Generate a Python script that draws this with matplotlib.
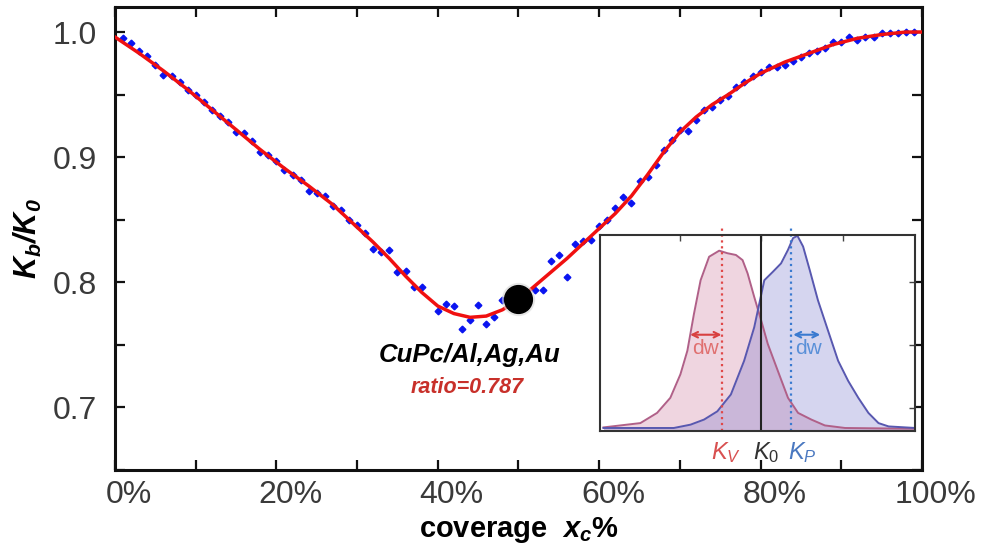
import numpy as np
import matplotlib
matplotlib.use("Agg")
import matplotlib.pyplot as plt
from matplotlib.ticker import MultipleLocator, FuncFormatter
from matplotlib.transforms import ScaledTranslation

plt.rcParams['font.family'] = ['Liberation Sans', 'DejaVu Sans']
plt.rcParams['mathtext.fontset'] = 'custom'
plt.rcParams['mathtext.rm'] = 'Liberation Sans'
plt.rcParams['mathtext.it'] = 'Liberation Sans:italic'
plt.rcParams['mathtext.bf'] = 'Liberation Sans:bold'
plt.rcParams['mathtext.bfit'] = 'Liberation Sans:bold:italic'

# measured points (coverage %, Kb/K0)
cov_pts = [1, 2, 3, 4, 5, 6, 7, 8, 9, 10, 11, 12, 13, 14, 15, 16, 17, 18, 19, 20,
           21, 22, 23, 24, 25, 26, 27, 28, 29, 30, 31, 32, 33, 34, 35, 36, 37, 38,
           40, 41, 42, 43, 44, 45, 46, 47, 48, 52, 53, 54, 55, 56, 57, 58, 59, 60,
           61, 62, 63, 64, 65, 66, 67, 68, 69, 70, 71, 72, 73, 74, 75, 76, 77, 78,
           79, 80, 81, 82, 83, 84, 85, 86, 87, 88, 89, 90, 91, 92, 93, 94, 95, 96,
           97, 98, 99]
kb_pts = [0.995, 0.991, 0.985, 0.981, 0.974, 0.966, 0.965, 0.960, 0.954, 0.950,
          0.944, 0.938, 0.933, 0.928, 0.920, 0.919, 0.913, 0.904, 0.902, 0.897,
          0.890, 0.886, 0.882, 0.873, 0.871, 0.869, 0.861, 0.858, 0.850, 0.846,
          0.839, 0.827, 0.8245, 0.826, 0.808, 0.809, 0.796, 0.796,
          0.777, 0.783, 0.781, 0.763, 0.770, 0.782, 0.767, 0.772, 0.786,
          0.794, 0.794, 0.817, 0.822, 0.804, 0.831, 0.833, 0.834, 0.845,
          0.850, 0.859, 0.868, 0.863, 0.881, 0.884, 0.894, 0.906, 0.914, 0.922,
          0.921, 0.930, 0.938, 0.940, 0.946, 0.949, 0.956, 0.960, 0.965, 0.968,
          0.972, 0.972, 0.974, 0.977, 0.980, 0.983, 0.985, 0.987, 0.992, 0.992,
          0.996, 0.994, 0.996, 0.996, 0.999, 0.999, 0.999, 1.000, 1.000]

# fitted curve
cov_fit = [0, 3, 6, 9, 12, 15, 18, 21, 24, 27, 30, 32, 34, 36, 38, 40, 42, 44, 46,
           48, 50, 52, 54, 56, 58, 60, 62, 64, 66, 68, 70, 72, 74, 76, 78, 80, 83,
           86, 89, 92, 95, 98, 100]
kb_fit = [0.996, 0.983, 0.969, 0.954, 0.938, 0.922, 0.906, 0.891, 0.877, 0.862,
          0.844, 0.832, 0.819, 0.805, 0.792, 0.781, 0.775, 0.772, 0.773, 0.778,
          0.786, 0.797, 0.808, 0.819, 0.831, 0.843, 0.855, 0.869, 0.886, 0.904,
          0.920, 0.932, 0.942, 0.950, 0.959, 0.967, 0.976, 0.983, 0.990, 0.995,
          0.998, 1.000, 1.000]

ratio_x = 50
ratio_y = 0.787

# inset distributions
kv_x = [1.1, 12.8, 18.1, 22.3, 25.5, 27.7, 29.8, 31.9, 34.6, 37.8, 40.4, 43.1, 45.2,
        46.8, 48.9, 51.1, 53.2, 56.4, 59.6, 62.8, 67.0, 71.3, 77.7, 100]
kv_y = [0.017, 0.039, 0.091, 0.168, 0.288, 0.408, 0.597, 0.768, 0.888, 0.919, 0.906,
        0.897, 0.871, 0.803, 0.683, 0.563, 0.443, 0.305, 0.168, 0.091, 0.057, 0.027,
        0.014, 0.010]
kp_x = [1.1, 23.4, 28.7, 33.0, 37.2, 41.5, 45.7, 48.9, 50.5, 52.1, 54.8, 57.4, 59.6,
        61.2, 62.6, 64.4, 66.5, 69.1, 72.3, 75.5, 78.7, 81.9, 85.1, 88.3, 91.5, 100]
kp_y = [0.014, 0.014, 0.031, 0.057, 0.099, 0.185, 0.357, 0.528, 0.648, 0.768, 0.811,
        0.854, 0.923, 0.983, 0.995, 0.940, 0.820, 0.666, 0.511, 0.357, 0.254, 0.168,
        0.091, 0.039, 0.022, 0.014]
kv_pos, k0_pos, kp_pos = 38.8, 51.1, 60.6

fig = plt.figure(figsize=(9.95, 5.56), dpi=100)
ax = fig.add_axes([0.1156, 0.1547, 0.811, 0.8327])

ax.plot(cov_pts, kb_pts, 'D', color='#0a14f0', markersize=3.4, zorder=2)
ax.plot(cov_fit, kb_fit, '-', color='#f01010', lw=2.5, zorder=3)
ax.plot([ratio_x], [ratio_y], 'o', color='#d8d8d8', markersize=23, alpha=0.5, zorder=4)
ax.plot([ratio_x], [ratio_y], 'o', color='black', markersize=20, zorder=5)

ax.text(43.9, 0.742, 'CuPc/Al,Ag,Au', fontsize=18.5, fontweight='bold', style='italic',
        color='black', ha='center', va='center')
ax.text(43.7, 0.716, 'ratio=0.787', fontsize=15.5, fontweight='bold', style='italic',
        color='#c8302a', ha='center', va='center')

ax.set_xlim(0, 100)
ax.set_ylim(0.65, 1.02)
ax.xaxis.set_major_locator(MultipleLocator(20))
ax.xaxis.set_minor_locator(MultipleLocator(10))
ax.yaxis.set_major_locator(MultipleLocator(0.1))
ax.yaxis.set_minor_locator(MultipleLocator(0.05))
ax.xaxis.set_major_formatter(FuncFormatter(lambda v, p: f'{v:.0f}%'))
ax.yaxis.set_major_formatter(FuncFormatter(lambda v, p: f'{v:.1f}'))
ax.tick_params(which='both', direction='in', top=True, right=True,
               length=7, width=1.6, color='#111111')
ax.tick_params(axis='x', which='major', labelsize=23, pad=7, labelcolor='#3a3a3a')
ax.tick_params(axis='y', which='major', labelsize=23, pad=13, labelcolor='#3a3a3a')
for s in ax.spines.values():
    s.set_linewidth(2.2)
    s.set_color('#111111')

for lab in ax.get_xticklabels():
    lab.set_transform(lab.get_transform() + ScaledTranslation(0.14, 0, fig.dpi_scale_trans))

ax.set_xlabel(r'coverage  $\mathbfit{x_c}$%', fontsize=21, fontweight='bold', labelpad=4)
ax.set_ylabel(r'$\mathbfit{K_b/K_0}$', fontsize=22, labelpad=6)

# inset
ins = fig.add_axes([0.603, 0.2253, 0.317, 0.3524])
ins.fill_between(kv_x, kv_y, color='#c86a90', alpha=0.28, lw=0)
ins.plot(kv_x, kv_y, color='#b06088', lw=1.4)
ins.fill_between(kp_x, kp_y, color='#6a6ac8', alpha=0.28, lw=0)
ins.plot(kp_x, kp_y, color='#5858b0', lw=1.4)
ins.plot([kv_pos, kv_pos], [0, 1.05], ':', color='#e04848', lw=1.6, clip_on=False)
ins.plot([kp_pos, kp_pos], [0, 1.05], ':', color='#3a7ad0', lw=1.6, clip_on=False)
ins.axvline(k0_pos, color='#222222', lw=1.5)
ins.annotate('', xy=(27.7, 0.49), xytext=(39.4, 0.49),
             arrowprops=dict(arrowstyle='<->', color='#d84040', lw=1.5))
ins.annotate('', xy=(60.4, 0.49), xytext=(70.7, 0.49),
             arrowprops=dict(arrowstyle='<->', color='#3a7ad0', lw=1.5))
ins.text(33.5, 0.42, 'dw', color='#e07070', fontsize=15, ha='center', va='center')
ins.text(66.0, 0.42, 'dw', color='#5a90d8', fontsize=15, ha='center', va='center')
ins.text(39.8, -0.11, r'$K_V$', color='#d85050', fontsize=17, ha='center', va='center')
ins.text(52.8, -0.11, r'$K_\mathit{0}$', color='#333333', fontsize=17, ha='center', va='center')
ins.text(64.3, -0.11, r'$K_P$', color='#4a78c0', fontsize=17, ha='center', va='center')
ins.set_xlim(0, 100)
ins.set_ylim(0, 1.0)
ins.set_xticks([25.5, 51, 77])
ins.set_yticks([0.117, 0.44, 0.76])
ins.tick_params(direction='in', length=4, width=1, bottom=False, left=False,
                top=True, right=True, labelbottom=False, labelleft=False, color='#444444')
for s in ins.spines.values():
    s.set_linewidth(1.5)
    s.set_color('#333333')

fig.savefig('out.png', dpi=100)
